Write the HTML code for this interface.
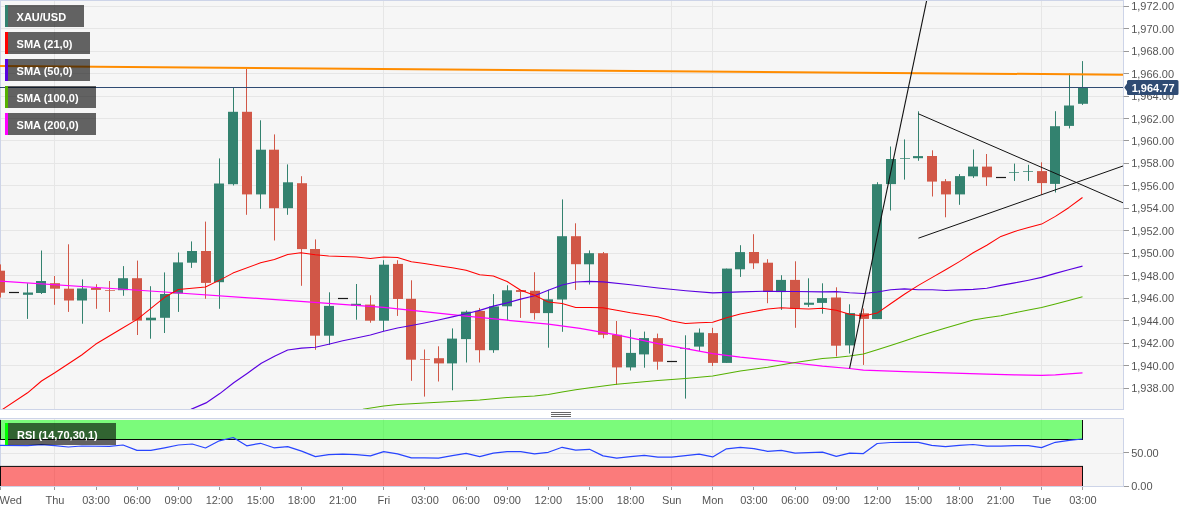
<!DOCTYPE html>
<html lang="en"><head><meta charset="utf-8"><title>XAU/USD chart</title>
<style>html,body{margin:0;padding:0;background:#fff;}body{width:1194px;height:513px;overflow:hidden;position:relative;font-family:"Liberation Sans",Arial,sans-serif;}svg{position:absolute;left:0;top:0;display:block}text{font-family:"Liberation Sans",Arial,sans-serif;font-size:11px;fill:#555}.b{font-weight:bold;fill:#fff}</style>
</head><body>
<svg width="1194" height="513" viewBox="0 0 1194 513">
<defs><clipPath id="m"><rect x="0" y="1" width="1123" height="408"/></clipPath><clipPath id="r"><rect x="0" y="420" width="1123" height="66.5"/></clipPath></defs>
<rect x="0.5" y="0.5" width="1123" height="409" fill="#f6f6f6" stroke="#cdd4e8"/>
<rect x="0.5" y="418.5" width="1123" height="68" fill="#f6f6f6" stroke="#cdd4e8"/>
<line x1="1" x2="1123" y1="388.5" y2="388.5" stroke="#e6e6e6"/>
<line x1="1123.5" x2="1129" y1="388.5" y2="388.5" stroke="#999"/>
<text x="1131.2" y="392.2">1,938.00</text>
<line x1="1" x2="1123" y1="365.5" y2="365.5" stroke="#e6e6e6"/>
<line x1="1123.5" x2="1129" y1="365.5" y2="365.5" stroke="#999"/>
<text x="1131.2" y="369.8">1,940.00</text>
<line x1="1" x2="1123" y1="343.5" y2="343.5" stroke="#e6e6e6"/>
<line x1="1123.5" x2="1129" y1="343.5" y2="343.5" stroke="#999"/>
<text x="1131.2" y="347.3">1,942.00</text>
<line x1="1" x2="1123" y1="320.5" y2="320.5" stroke="#e6e6e6"/>
<line x1="1123.5" x2="1129" y1="320.5" y2="320.5" stroke="#999"/>
<text x="1131.2" y="324.8">1,944.00</text>
<line x1="1" x2="1123" y1="298.5" y2="298.5" stroke="#e6e6e6"/>
<line x1="1123.5" x2="1129" y1="298.5" y2="298.5" stroke="#999"/>
<text x="1131.2" y="302.3">1,946.00</text>
<line x1="1" x2="1123" y1="275.5" y2="275.5" stroke="#e6e6e6"/>
<line x1="1123.5" x2="1129" y1="275.5" y2="275.5" stroke="#999"/>
<text x="1131.2" y="279.8">1,948.00</text>
<line x1="1" x2="1123" y1="253.5" y2="253.5" stroke="#e6e6e6"/>
<line x1="1123.5" x2="1129" y1="253.5" y2="253.5" stroke="#999"/>
<text x="1131.2" y="257.4">1,950.00</text>
<line x1="1" x2="1123" y1="230.5" y2="230.5" stroke="#e6e6e6"/>
<line x1="1123.5" x2="1129" y1="230.5" y2="230.5" stroke="#999"/>
<text x="1131.2" y="234.9">1,952.00</text>
<line x1="1" x2="1123" y1="208.5" y2="208.5" stroke="#e6e6e6"/>
<line x1="1123.5" x2="1129" y1="208.5" y2="208.5" stroke="#999"/>
<text x="1131.2" y="212.4">1,954.00</text>
<line x1="1" x2="1123" y1="185.5" y2="185.5" stroke="#e6e6e6"/>
<line x1="1123.5" x2="1129" y1="185.5" y2="185.5" stroke="#999"/>
<text x="1131.2" y="189.9">1,956.00</text>
<line x1="1" x2="1123" y1="163.5" y2="163.5" stroke="#e6e6e6"/>
<line x1="1123.5" x2="1129" y1="163.5" y2="163.5" stroke="#999"/>
<text x="1131.2" y="167.4">1,958.00</text>
<line x1="1" x2="1123" y1="140.5" y2="140.5" stroke="#e6e6e6"/>
<line x1="1123.5" x2="1129" y1="140.5" y2="140.5" stroke="#999"/>
<text x="1131.2" y="145.0">1,960.00</text>
<line x1="1" x2="1123" y1="118.5" y2="118.5" stroke="#e6e6e6"/>
<line x1="1123.5" x2="1129" y1="118.5" y2="118.5" stroke="#999"/>
<text x="1131.2" y="122.5">1,962.00</text>
<line x1="1" x2="1123" y1="96.5" y2="96.5" stroke="#e6e6e6"/>
<line x1="1123.5" x2="1129" y1="96.5" y2="96.5" stroke="#999"/>
<text x="1131.2" y="100.0">1,964.00</text>
<line x1="1" x2="1123" y1="73.5" y2="73.5" stroke="#e6e6e6"/>
<line x1="1123.5" x2="1129" y1="73.5" y2="73.5" stroke="#999"/>
<text x="1131.2" y="77.5">1,966.00</text>
<line x1="1" x2="1123" y1="51.5" y2="51.5" stroke="#e6e6e6"/>
<line x1="1123.5" x2="1129" y1="51.5" y2="51.5" stroke="#999"/>
<text x="1131.2" y="55.0">1,968.00</text>
<line x1="1" x2="1123" y1="28.5" y2="28.5" stroke="#e6e6e6"/>
<line x1="1123.5" x2="1129" y1="28.5" y2="28.5" stroke="#999"/>
<text x="1131.2" y="32.6">1,970.00</text>
<line x1="1" x2="1123" y1="6.5" y2="6.5" stroke="#e6e6e6"/>
<line x1="1123.5" x2="1129" y1="6.5" y2="6.5" stroke="#999"/>
<text x="1131.2" y="10.1">1,972.00</text>
<line x1="54.5" x2="54.5" y1="1" y2="409" stroke="#e6e6e6"/>
<line x1="54.5" x2="54.5" y1="419" y2="486" stroke="#e6e6e6"/>
<line x1="383.5" x2="383.5" y1="1" y2="409" stroke="#e6e6e6"/>
<line x1="383.5" x2="383.5" y1="419" y2="486" stroke="#e6e6e6"/>
<line x1="671.5" x2="671.5" y1="1" y2="409" stroke="#e6e6e6"/>
<line x1="671.5" x2="671.5" y1="419" y2="486" stroke="#e6e6e6"/>
<line x1="712.5" x2="712.5" y1="1" y2="409" stroke="#e6e6e6"/>
<line x1="712.5" x2="712.5" y1="419" y2="486" stroke="#e6e6e6"/>
<line x1="1041.5" x2="1041.5" y1="1" y2="409" stroke="#e6e6e6"/>
<line x1="1041.5" x2="1041.5" y1="419" y2="486" stroke="#e6e6e6"/>
<line x1="1" x2="1123" y1="453.5" y2="453.5" stroke="#e6e6e6"/>
<line x1="1123.5" x2="1129" y1="452.5" y2="452.5" stroke="#999"/>
<text x="1131.2" y="457.0">50.00</text>
<line x1="1123.5" x2="1129" y1="486.5" y2="486.5" stroke="#999"/>
<text x="1131.2" y="490.4">0.00</text>
<g clip-path="url(#m)">
<rect x="0" y="264.4" width="1" height="33.1" fill="#d15747"/>
<rect x="-5" y="270.7" width="10" height="22.0" fill="#d15747"/>
<rect x="9" y="291.9" width="10" height="1.2" fill="#1a1a1a"/>
<rect x="27" y="283.2" width="1" height="35.7" fill="#33826f"/>
<rect x="23" y="292.5" width="10" height="2.3" fill="#33826f"/>
<rect x="41" y="250.5" width="1" height="43.5" fill="#33826f"/>
<rect x="36" y="281.0" width="10" height="12.0" fill="#33826f"/>
<rect x="54" y="276.0" width="1" height="28.8" fill="#d15747"/>
<rect x="50" y="283.2" width="10" height="5.5" fill="#d15747"/>
<rect x="68" y="244.3" width="1" height="67.6" fill="#d15747"/>
<rect x="64" y="288.7" width="10" height="11.8" fill="#d15747"/>
<rect x="82" y="279.4" width="1" height="44.3" fill="#33826f"/>
<rect x="77" y="288.5" width="10" height="12.0" fill="#33826f"/>
<rect x="96" y="284.2" width="1" height="24.6" fill="#d15747"/>
<rect x="91" y="288.0" width="10" height="1.9" fill="#d15747"/>
<rect x="109" y="281.0" width="1" height="30.9" fill="#d15747"/>
<rect x="105" y="290.0" width="10" height="1.0" fill="#d15747" opacity="0.72"/>
<rect x="123" y="266.1" width="1" height="29.7" fill="#33826f"/>
<rect x="118" y="278.2" width="10" height="12.0" fill="#33826f"/>
<rect x="137" y="260.6" width="1" height="74.4" fill="#d15747"/>
<rect x="132" y="278.2" width="10" height="42.4" fill="#d15747"/>
<rect x="150" y="286.2" width="1" height="52.5" fill="#33826f"/>
<rect x="146" y="317.7" width="10" height="2.6" fill="#33826f"/>
<rect x="164" y="272.4" width="1" height="60.6" fill="#33826f"/>
<rect x="160" y="294.0" width="10" height="23.8" fill="#33826f"/>
<rect x="178" y="252.5" width="1" height="59.4" fill="#33826f"/>
<rect x="173" y="262.4" width="10" height="31.1" fill="#33826f"/>
<rect x="191" y="241.4" width="1" height="26.5" fill="#33826f"/>
<rect x="187" y="251.0" width="10" height="11.7" fill="#33826f"/>
<rect x="205" y="221.6" width="1" height="77.2" fill="#d15747"/>
<rect x="201" y="251.0" width="10" height="31.9" fill="#d15747"/>
<rect x="219" y="158.4" width="1" height="150.4" fill="#33826f"/>
<rect x="214" y="183.5" width="10" height="98.7" fill="#33826f"/>
<rect x="233" y="87.6" width="1" height="97.9" fill="#33826f"/>
<rect x="228" y="111.8" width="10" height="72.4" fill="#33826f"/>
<rect x="246" y="68.8" width="1" height="146.0" fill="#d15747"/>
<rect x="242" y="111.8" width="10" height="82.6" fill="#d15747"/>
<rect x="260" y="120.3" width="1" height="88.5" fill="#33826f"/>
<rect x="256" y="149.7" width="10" height="44.7" fill="#33826f"/>
<rect x="274" y="134.4" width="1" height="106.1" fill="#d15747"/>
<rect x="269" y="149.7" width="10" height="58.5" fill="#d15747"/>
<rect x="287" y="164.4" width="1" height="50.4" fill="#33826f"/>
<rect x="283" y="182.3" width="10" height="25.9" fill="#33826f"/>
<rect x="301" y="176.2" width="1" height="109.6" fill="#d15747"/>
<rect x="297" y="183.2" width="10" height="65.9" fill="#d15747"/>
<rect x="315" y="239.4" width="1" height="110.4" fill="#d15747"/>
<rect x="310" y="249.0" width="10" height="86.7" fill="#d15747"/>
<rect x="329" y="292.3" width="1" height="52.5" fill="#33826f"/>
<rect x="324" y="305.9" width="10" height="29.8" fill="#33826f"/>
<rect x="338" y="297.9" width="10" height="1.2" fill="#1a1a1a"/>
<rect x="356" y="284.0" width="1" height="35.7" fill="#33826f"/>
<rect x="351" y="303.8" width="10" height="1.9" fill="#33826f"/>
<rect x="370" y="295.3" width="1" height="27.4" fill="#d15747"/>
<rect x="365" y="304.6" width="10" height="16.1" fill="#d15747"/>
<rect x="383" y="260.2" width="1" height="70.8" fill="#33826f"/>
<rect x="379" y="264.7" width="10" height="56.0" fill="#33826f"/>
<rect x="397" y="260.2" width="1" height="55.7" fill="#d15747"/>
<rect x="393" y="263.9" width="10" height="35.1" fill="#d15747"/>
<rect x="411" y="280.3" width="1" height="100.5" fill="#d15747"/>
<rect x="406" y="298.8" width="10" height="60.9" fill="#d15747"/>
<rect x="424" y="349.5" width="1" height="47.1" fill="#d15747"/>
<rect x="420" y="359.0" width="10" height="1.0" fill="#d15747" opacity="0.72"/>
<rect x="438" y="346.3" width="1" height="35.2" fill="#d15747"/>
<rect x="434" y="358.2" width="10" height="5.2" fill="#d15747"/>
<rect x="452" y="328.4" width="1" height="61.9" fill="#33826f"/>
<rect x="447" y="338.6" width="10" height="24.8" fill="#33826f"/>
<rect x="466" y="310.5" width="1" height="52.0" fill="#33826f"/>
<rect x="461" y="311.7" width="10" height="27.4" fill="#33826f"/>
<rect x="479" y="307.9" width="1" height="54.6" fill="#d15747"/>
<rect x="475" y="310.9" width="10" height="39.3" fill="#d15747"/>
<rect x="493" y="294.1" width="1" height="58.7" fill="#33826f"/>
<rect x="489" y="306.4" width="10" height="43.8" fill="#33826f"/>
<rect x="507" y="285.3" width="1" height="34.9" fill="#33826f"/>
<rect x="502" y="290.3" width="10" height="16.0" fill="#33826f"/>
<rect x="520" y="290.3" width="1" height="27.6" fill="#d15747"/>
<rect x="516" y="290.1" width="10" height="1.8" fill="#d15747"/>
<rect x="534" y="272.2" width="1" height="47.5" fill="#d15747"/>
<rect x="530" y="290.8" width="10" height="22.3" fill="#d15747"/>
<rect x="548" y="289.8" width="1" height="57.9" fill="#33826f"/>
<rect x="543" y="299.3" width="10" height="13.8" fill="#33826f"/>
<rect x="562" y="199.4" width="1" height="132.4" fill="#33826f"/>
<rect x="557" y="236.2" width="10" height="63.3" fill="#33826f"/>
<rect x="575" y="223.3" width="1" height="66.6" fill="#d15747"/>
<rect x="571" y="236.2" width="10" height="28.0" fill="#d15747"/>
<rect x="589" y="250.4" width="1" height="34.1" fill="#33826f"/>
<rect x="584" y="253.2" width="10" height="11.1" fill="#33826f"/>
<rect x="603" y="252.0" width="1" height="86.3" fill="#d15747"/>
<rect x="598" y="253.2" width="10" height="81.6" fill="#d15747"/>
<rect x="616" y="321.0" width="1" height="63.8" fill="#d15747"/>
<rect x="612" y="334.8" width="10" height="32.6" fill="#d15747"/>
<rect x="630" y="329.5" width="1" height="41.0" fill="#33826f"/>
<rect x="626" y="352.9" width="10" height="14.5" fill="#33826f"/>
<rect x="644" y="331.6" width="1" height="36.1" fill="#33826f"/>
<rect x="639" y="338.1" width="10" height="16.3" fill="#33826f"/>
<rect x="657" y="333.6" width="1" height="36.1" fill="#d15747"/>
<rect x="653" y="338.1" width="10" height="23.6" fill="#d15747"/>
<rect x="667" y="360.9" width="10" height="1.2" fill="#1a1a1a"/>
<rect x="685" y="335.3" width="1" height="63.3" fill="#33826f"/>
<rect x="680" y="348.0" width="10" height="1.0" fill="#33826f" opacity="0.72"/>
<rect x="699" y="328.5" width="1" height="22.4" fill="#33826f"/>
<rect x="694" y="332.6" width="10" height="14.0" fill="#33826f"/>
<rect x="712" y="327.8" width="1" height="38.2" fill="#d15747"/>
<rect x="708" y="333.1" width="10" height="29.8" fill="#d15747"/>
<rect x="726" y="268.6" width="1" height="94.3" fill="#33826f"/>
<rect x="722" y="268.6" width="10" height="94.3" fill="#33826f"/>
<rect x="740" y="245.2" width="1" height="31.7" fill="#33826f"/>
<rect x="735" y="252.1" width="10" height="17.2" fill="#33826f"/>
<rect x="753" y="234.2" width="1" height="34.7" fill="#d15747"/>
<rect x="749" y="252.0" width="10" height="11.3" fill="#d15747"/>
<rect x="767" y="259.2" width="1" height="44.0" fill="#d15747"/>
<rect x="763" y="262.7" width="10" height="28.9" fill="#d15747"/>
<rect x="781" y="275.2" width="1" height="34.7" fill="#33826f"/>
<rect x="776" y="279.9" width="10" height="12.2" fill="#33826f"/>
<rect x="795" y="261.3" width="1" height="66.5" fill="#d15747"/>
<rect x="790" y="279.9" width="10" height="29.0" fill="#d15747"/>
<rect x="808" y="278.3" width="1" height="28.6" fill="#33826f"/>
<rect x="804" y="302.7" width="10" height="2.1" fill="#33826f"/>
<rect x="822" y="283.3" width="1" height="30.4" fill="#33826f"/>
<rect x="817" y="298.1" width="10" height="4.8" fill="#33826f"/>
<rect x="836" y="287.3" width="1" height="69.2" fill="#d15747"/>
<rect x="831" y="297.5" width="10" height="48.2" fill="#d15747"/>
<rect x="849" y="304.3" width="1" height="49.2" fill="#33826f"/>
<rect x="845" y="313.1" width="10" height="32.3" fill="#33826f"/>
<rect x="863" y="308.5" width="1" height="56.4" fill="#d15747"/>
<rect x="859" y="313.3" width="10" height="5.6" fill="#d15747"/>
<rect x="877" y="182.2" width="1" height="136.9" fill="#33826f"/>
<rect x="872" y="184.2" width="10" height="134.9" fill="#33826f"/>
<rect x="890" y="146.5" width="1" height="64.0" fill="#33826f"/>
<rect x="886" y="159.0" width="10" height="25.1" fill="#33826f"/>
<rect x="904" y="139.4" width="1" height="40.2" fill="#33826f"/>
<rect x="900" y="158.0" width="10" height="1.0" fill="#33826f" opacity="0.72"/>
<rect x="918" y="111.3" width="1" height="49.5" fill="#33826f"/>
<rect x="913" y="156.1" width="10" height="2.1" fill="#33826f"/>
<rect x="932" y="150.3" width="1" height="46.2" fill="#d15747"/>
<rect x="927" y="156.0" width="10" height="25.6" fill="#d15747"/>
<rect x="945" y="179.1" width="1" height="38.2" fill="#d15747"/>
<rect x="941" y="181.2" width="10" height="13.2" fill="#d15747"/>
<rect x="959" y="174.1" width="1" height="30.7" fill="#33826f"/>
<rect x="955" y="176.1" width="10" height="18.3" fill="#33826f"/>
<rect x="973" y="149.5" width="1" height="28.4" fill="#33826f"/>
<rect x="968" y="166.6" width="10" height="9.7" fill="#33826f"/>
<rect x="986" y="154.0" width="1" height="31.9" fill="#d15747"/>
<rect x="982" y="166.6" width="10" height="10.7" fill="#d15747"/>
<rect x="996" y="176.9" width="10" height="1.2" fill="#1a1a1a"/>
<rect x="1014" y="163.6" width="1" height="17.3" fill="#33826f"/>
<rect x="1009" y="172.0" width="10" height="1.0" fill="#33826f" opacity="0.72"/>
<rect x="1028" y="164.8" width="1" height="16.1" fill="#33826f"/>
<rect x="1023" y="171.0" width="10" height="1.0" fill="#33826f" opacity="0.72"/>
<rect x="1041" y="162.3" width="1" height="32.4" fill="#d15747"/>
<rect x="1037" y="171.1" width="10" height="12.0" fill="#d15747"/>
<rect x="1055" y="111.2" width="1" height="81.3" fill="#33826f"/>
<rect x="1050" y="126.2" width="10" height="57.7" fill="#33826f"/>
<rect x="1069" y="73.6" width="1" height="54.8" fill="#33826f"/>
<rect x="1064" y="105.5" width="10" height="20.4" fill="#33826f"/>
<rect x="1082" y="61.1" width="1" height="43.8" fill="#33826f"/>
<rect x="1078" y="87.4" width="10" height="16.4" fill="#33826f"/>
<polyline points="0.0,281.0 150.0,291.0 290.0,300.6 383.7,307.4 466.1,316.2 548.3,324.2 580.0,328.3 616.7,334.8 657.9,343.6 685.5,348.6 712.7,353.7 740.3,357.2 767.7,359.9 795.1,363.0 822.5,366.2 849.6,368.5 863.4,370.1 904.4,371.6 945.6,372.9 986.8,374.1 1014.7,374.9 1041.6,375.4 1055.4,374.9 1068.7,373.9 1082.5,372.9" fill="none" stroke="#ff00ff" stroke-width="1.25" stroke-linejoin="round"/>
<polyline points="362.9,409.2 383.7,405.9 398.0,404.4 424.7,402.9 452.3,401.4 479.7,399.9 507.1,397.6 534.5,395.9 548.3,394.6 562.1,392.1 575.7,389.8 590.0,387.8 616.7,384.3 657.9,380.6 685.5,378.5 712.7,376.0 740.3,371.0 767.7,367.2 795.1,362.5 822.5,358.6 836.3,357.4 849.6,356.0 863.4,354.1 877.2,349.8 890.6,345.4 904.4,340.9 918.4,336.3 932.3,332.0 945.6,328.0 959.4,323.9 973.2,320.0 986.8,317.7 1000.9,315.7 1014.7,312.8 1028.5,310.1 1041.6,307.5 1055.4,304.1 1068.7,300.6 1082.5,296.7" fill="none" stroke="#55b000" stroke-width="1.05" stroke-linejoin="round"/>
<polyline points="191.0,409.4 206.0,402.9 219.8,393.6 233.7,382.8 247.5,373.2 261.3,363.2 275.0,355.9 287.7,350.0 301.6,348.1 315.4,347.3 328.7,344.3 342.8,340.8 356.3,338.0 370.4,335.0 383.7,331.3 397.5,328.0 411.4,325.5 424.4,323.0 438.5,320.0 452.3,316.9 466.1,313.7 479.7,310.4 493.3,306.1 507.1,302.9 520.7,299.1 534.5,295.8 548.3,290.2 562.1,285.0 575.7,282.0 589.3,281.4 603.2,281.9 630.6,284.7 658.2,288.0 685.8,290.7 712.7,292.9 740.1,291.9 767.5,291.2 795.1,291.5 822.5,291.9 836.3,291.6 849.6,292.8 863.4,293.5 877.2,292.0 890.6,289.7 904.4,288.9 918.4,289.7 932.3,289.7 945.6,290.5 959.4,289.9 973.2,289.4 986.8,288.2 1000.9,285.4 1014.7,282.9 1028.5,280.2 1041.6,277.4 1055.4,273.4 1068.7,269.8 1082.5,266.1" fill="none" stroke="#5a00e0" stroke-width="1.15" stroke-linejoin="round"/>
<polyline points="2.5,409.4 27.6,392.8 41.5,381.0 54.8,372.7 81.7,355.0 95.5,344.3 119.3,330.0 137.2,319.4 164.6,297.3 178.4,289.5 205.5,287.0 224.1,277.9 232.9,273.1 260.6,262.8 274.4,259.5 287.7,254.5 300.8,252.8 315.3,254.8 328.7,255.9 342.8,256.4 356.3,257.1 370.4,258.4 383.7,257.1 397.5,257.4 411.4,261.7 424.4,263.4 438.5,265.7 452.3,267.7 466.1,270.2 479.7,274.7 493.3,276.0 507.1,281.5 520.7,290.3 534.5,295.3 548.3,302.1 562.1,303.6 575.7,307.4 590.0,307.6 602.6,307.7 616.7,310.2 630.5,312.7 644.3,314.7 657.9,316.7 671.7,321.0 685.5,323.5 699.1,322.8 712.7,322.3 726.5,317.7 740.3,314.0 753.9,311.5 767.7,308.9 781.3,307.7 795.1,308.4 808.6,308.9 822.5,308.2 836.3,310.2 849.6,314.2 863.4,316.1 877.2,313.1 890.6,303.8 904.4,294.2 918.4,285.4 932.3,277.4 945.6,269.8 959.4,261.6 973.2,252.8 986.8,245.2 1000.9,236.4 1014.7,231.4 1028.5,227.6 1041.6,224.1 1055.4,216.4 1068.7,207.7 1082.5,197.5" fill="none" stroke="#ff0000" stroke-width="1.05" stroke-linejoin="round"/>
<line x1="0" x2="1123" y1="87.5" y2="87.5" stroke="#2f4b73" stroke-width="1"/>
<line x1="0" y1="66" x2="1123" y2="74.7" stroke="#ff8c00" stroke-width="2"/>
<line x1="849.6" y1="368.3" x2="927.2" y2="-2" stroke="#111" stroke-width="1.1"/>
<line x1="918.4" y1="113.8" x2="1123.5" y2="203" stroke="#111" stroke-width="1.0"/>
<line x1="918.4" y1="238.2" x2="1123.5" y2="165.8" stroke="#111" stroke-width="1.0"/>
</g>
<g clip-path="url(#r)">
<rect x="0.5" y="400" width="1082" height="39.5" fill="rgba(0,255,0,0.5)" stroke="#0a0a0a" stroke-width="1"/>
<rect x="0.5" y="466.4" width="1082" height="40" fill="rgba(255,0,0,0.5)" stroke="#0a0a0a" stroke-width="1"/>
<polyline points="0.0,445.3 27.6,445.6 41.5,444.6 54.8,445.6 68.3,447.0 81.7,446.0 109.3,446.3 123.0,445.0 137.0,450.4 150.8,450.4 164.6,447.8 178.4,445.0 192.2,444.0 205.5,448.0 219.3,440.8 233.2,437.5 246.7,445.8 260.5,443.3 273.9,447.8 287.7,446.6 301.6,451.1 315.4,456.6 328.7,454.6 342.8,454.1 356.3,454.6 370.4,455.9 383.7,451.6 397.5,453.8 411.4,457.9 424.4,457.9 438.5,458.1 452.3,455.6 466.1,453.3 479.7,456.6 493.3,453.1 507.1,451.6 520.7,451.6 534.5,453.8 548.3,452.3 562.1,447.3 575.7,450.1 589.5,449.3 603.1,455.9 616.7,458.1 630.5,456.6 644.3,455.4 657.9,457.1 671.7,457.1 685.5,455.6 699.1,454.1 712.7,456.9 726.5,448.8 740.3,447.3 753.9,448.6 767.7,451.3 781.3,450.3 795.1,453.1 808.6,452.6 822.5,452.1 836.3,456.4 849.6,453.1 863.4,453.6 877.2,443.5 890.6,442.5 904.4,442.3 918.4,442.3 931.7,445.3 945.5,446.6 959.3,445.3 973.1,444.5 987.0,446.1 1000.8,446.1 1014.6,445.6 1028.4,445.6 1041.5,447.6 1055.3,442.3 1069.1,440.3 1082.4,439.0" fill="none" stroke="#2845ff" stroke-width="1.2" stroke-linejoin="round"/>
</g>
<line x1="0" x2="1124" y1="486.5" y2="486.5" stroke="#cdd4e8"/>
<line x1="551" x2="571" y1="412.5" y2="412.5" stroke="#666" stroke-width="1"/>
<line x1="551" x2="571" y1="414.5" y2="414.5" stroke="#666" stroke-width="1"/>
<line x1="551" x2="571" y1="416.5" y2="416.5" stroke="#666" stroke-width="1"/>
<line x1="0.5" x2="0.5" y1="487" y2="490" stroke="#999"/>
<text x="-0.5" y="504">Wed</text>
<line x1="54.5" x2="54.5" y1="487" y2="490" stroke="#999"/>
<text x="54.9" y="504" text-anchor="middle">Thu</text>
<line x1="96.5" x2="96.5" y1="487" y2="490" stroke="#999"/>
<text x="96.0" y="504" text-anchor="middle">03:00</text>
<line x1="137.5" x2="137.5" y1="487" y2="490" stroke="#999"/>
<text x="137.2" y="504" text-anchor="middle">06:00</text>
<line x1="178.5" x2="178.5" y1="487" y2="490" stroke="#999"/>
<text x="178.3" y="504" text-anchor="middle">09:00</text>
<line x1="219.5" x2="219.5" y1="487" y2="490" stroke="#999"/>
<text x="219.4" y="504" text-anchor="middle">12:00</text>
<line x1="260.5" x2="260.5" y1="487" y2="490" stroke="#999"/>
<text x="260.5" y="504" text-anchor="middle">15:00</text>
<line x1="301.5" x2="301.5" y1="487" y2="490" stroke="#999"/>
<text x="301.6" y="504" text-anchor="middle">18:00</text>
<line x1="342.5" x2="342.5" y1="487" y2="490" stroke="#999"/>
<text x="342.8" y="504" text-anchor="middle">21:00</text>
<line x1="383.5" x2="383.5" y1="487" y2="490" stroke="#999"/>
<text x="383.9" y="504" text-anchor="middle">Fri</text>
<line x1="424.5" x2="424.5" y1="487" y2="490" stroke="#999"/>
<text x="425.0" y="504" text-anchor="middle">03:00</text>
<line x1="466.5" x2="466.5" y1="487" y2="490" stroke="#999"/>
<text x="466.1" y="504" text-anchor="middle">06:00</text>
<line x1="507.5" x2="507.5" y1="487" y2="490" stroke="#999"/>
<text x="507.2" y="504" text-anchor="middle">09:00</text>
<line x1="548.5" x2="548.5" y1="487" y2="490" stroke="#999"/>
<text x="548.3" y="504" text-anchor="middle">12:00</text>
<line x1="589.5" x2="589.5" y1="487" y2="490" stroke="#999"/>
<text x="589.5" y="504" text-anchor="middle">15:00</text>
<line x1="630.5" x2="630.5" y1="487" y2="490" stroke="#999"/>
<text x="630.6" y="504" text-anchor="middle">18:00</text>
<line x1="671.5" x2="671.5" y1="487" y2="490" stroke="#999"/>
<text x="671.7" y="504" text-anchor="middle">Sun</text>
<line x1="712.5" x2="712.5" y1="487" y2="490" stroke="#999"/>
<text x="712.8" y="504" text-anchor="middle">Mon</text>
<line x1="753.5" x2="753.5" y1="487" y2="490" stroke="#999"/>
<text x="753.9" y="504" text-anchor="middle">03:00</text>
<line x1="795.5" x2="795.5" y1="487" y2="490" stroke="#999"/>
<text x="795.0" y="504" text-anchor="middle">06:00</text>
<line x1="836.5" x2="836.5" y1="487" y2="490" stroke="#999"/>
<text x="836.2" y="504" text-anchor="middle">09:00</text>
<line x1="877.5" x2="877.5" y1="487" y2="490" stroke="#999"/>
<text x="877.3" y="504" text-anchor="middle">12:00</text>
<line x1="918.5" x2="918.5" y1="487" y2="490" stroke="#999"/>
<text x="918.4" y="504" text-anchor="middle">15:00</text>
<line x1="959.5" x2="959.5" y1="487" y2="490" stroke="#999"/>
<text x="959.5" y="504" text-anchor="middle">18:00</text>
<line x1="1000.5" x2="1000.5" y1="487" y2="490" stroke="#999"/>
<text x="1000.6" y="504" text-anchor="middle">21:00</text>
<line x1="1041.5" x2="1041.5" y1="487" y2="490" stroke="#999"/>
<text x="1041.8" y="504" text-anchor="middle">Tue</text>
<line x1="1082.5" x2="1082.5" y1="487" y2="490" stroke="#999"/>
<text x="1082.9" y="504" text-anchor="middle">03:00</text>
<path d="M1124.2 87.4 L1127 83.5 L1127 81.5 Q1127 80 1128.5 80 L1177 80 Q1178.5 80 1178.5 81.5 L1178.5 93.5 Q1178.5 95 1177 95 L1128.5 95 Q1127 95 1127 93.5 L1127 91.3 Z" fill="#2f4b73"/>
<text class="b" x="1131.7" y="91.5">1,964.77</text>
<rect x="5" y="5" width="79" height="22" fill="rgba(0,0,0,0.6)"/>
<rect x="5" y="5" width="3" height="22" fill="#33826f"/>
<text class="b" x="16.6" y="21">XAU/USD</text>
<rect x="5" y="32" width="85" height="22" fill="rgba(0,0,0,0.6)"/>
<rect x="5" y="32" width="3" height="22" fill="#ff0000"/>
<text class="b" x="16.6" y="48">SMA (21,0)</text>
<rect x="5" y="59" width="85" height="22" fill="rgba(0,0,0,0.6)"/>
<rect x="5" y="59" width="3" height="22" fill="#5a00e0"/>
<text class="b" x="16.6" y="75">SMA (50,0)</text>
<rect x="5" y="86" width="91" height="22" fill="rgba(0,0,0,0.6)"/>
<rect x="5" y="86" width="3" height="22" fill="#55b000"/>
<text class="b" x="16.6" y="102">SMA (100,0)</text>
<rect x="5" y="113" width="91" height="22" fill="rgba(0,0,0,0.6)"/>
<rect x="5" y="113" width="3" height="22" fill="#ff00ff"/>
<text class="b" x="16.6" y="129">SMA (200,0)</text>
<rect x="5" y="423" width="111" height="22" fill="rgba(0,0,0,0.6)"/>
<rect x="5" y="423" width="3" height="22" fill="#00ff00"/>
<text class="b" x="17" y="439">RSI (14,70,30,1)</text>
</svg></body></html>
